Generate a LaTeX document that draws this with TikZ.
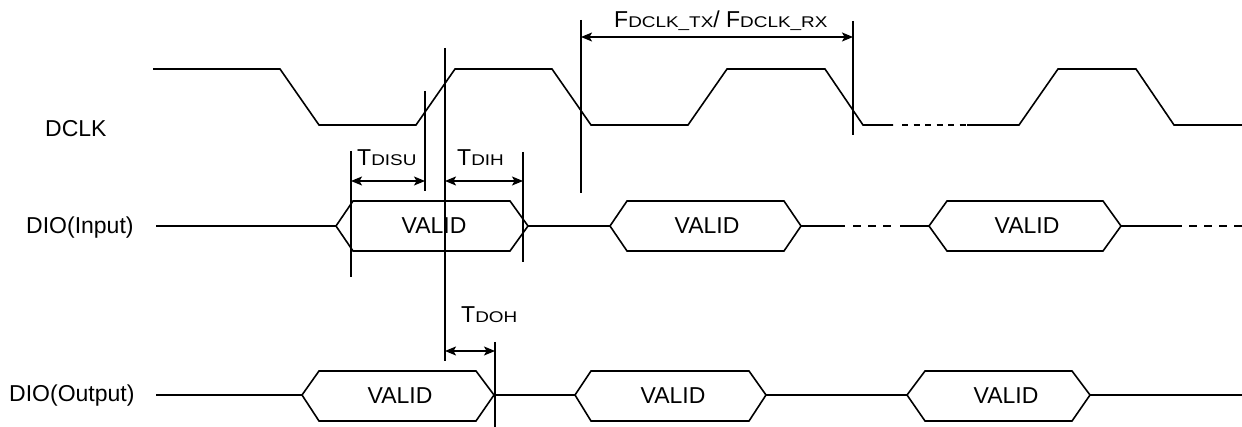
\documentclass[tikz,border=0pt]{standalone}
\usepackage{fontspec}
\setmainfont{Liberation Sans}
\newfontfamily\smfam[FakeStretch=1.22]{Liberation Sans}
\usetikzlibrary{arrows.meta}
\newcommand{\lowcaps}[1]{{\smfam\fontsize{15.5pt}{16pt}\selectfont #1}}
\begin{document}
\begin{tikzpicture}[x=1pt,y=-1pt,
  wave/.style={line width=1.6pt, line join=miter},
  guide/.style={line width=1.4pt},
  dim/.style={line width=1.4pt, {Stealth[length=11pt,width=9pt,inset=2.5pt]}-{Stealth[length=11pt,width=9pt,inset=2.5pt]}},
  lbl/.style={font=\fontsize{23pt}{24pt}\selectfont, inner sep=0pt},
  dashA/.style={dash pattern=on 6pt off 5.5pt},
  dashB/.style={dash pattern=on 8pt off 7pt}]
\useasboundingbox (0,0) rectangle (1242,427);

% signal names
\node[lbl, anchor=base west] (dclk) at (45,137) {DCLK};
\node[lbl, anchor=base west] (dioin) at (26,234) {DIO(Input)};
\node[lbl, anchor=base west] (dioout) at (9,402) {DIO(Output)};

% DCLK waveform
\draw[wave] (153,69) -- (280,69) -- (319,125) -- (416,125) -- (455,69) -- (552,69)
  -- (591,125) -- (688,125) -- (727,69) -- (825,69) -- (863,125) -- (893,125);
\draw[wave,dashA] (902,125) -- (967,125);
\draw[wave] (967,125) -- (1019,125) -- (1058,69) -- (1136,69) -- (1174,125) -- (1242,125);

% DIO(Input) boxes
\coordinate (i1w) at (336,226); \coordinate (i1e) at (528,226);
\coordinate (i2w) at (610,226); \coordinate (i2e) at (801,226);
\coordinate (i3w) at (929,226); \coordinate (i3e) at (1121,226);
\draw[wave] (i1w) -- (353,201) -- (510,201) -- (i1e) -- (510,251) -- (353,251) -- cycle;
\draw[wave] (i2w) -- (627,201) -- (784,201) -- (i2e) -- (784,251) -- (627,251) -- cycle;
\draw[wave] (i3w) -- (947,201) -- (1103,201) -- (i3e) -- (1103,251) -- (947,251) -- cycle;
\node[lbl, anchor=base] (vi1) at (434,234) {VALID};
\node[lbl, anchor=base] (vi2) at (707,234) {VALID};
\node[lbl, anchor=base] (vi3) at (1027,234) {VALID};

\coordinate (inS) at (156,226);
\draw[wave] (inS) -- (i1w);
\draw[wave] (i1e) -- (i2w);
\draw[wave] (i2e) -- (845,226);
\draw[wave,dashB] (853,226) -- (892,226);
\draw[wave] (900,226) -- (i3w);
\draw[wave] (i3e) -- (1182,226);
\draw[wave,dashB] (1189,226) -- (1242,226);

% DIO(Output) boxes
\coordinate (o1w) at (302,395); \coordinate (o1e) at (494,395);
\coordinate (o2w) at (575,395); \coordinate (o2e) at (766,395);
\coordinate (o3w) at (907,395); \coordinate (o3e) at (1090,395);
\draw[wave] (o1w) -- (319,371) -- (476,371) -- (o1e) -- (476,421) -- (319,421) -- cycle;
\draw[wave] (o2w) -- (591,371) -- (749,371) -- (o2e) -- (749,421) -- (591,421) -- cycle;
\draw[wave] (o3w) -- (925,371) -- (1072,371) -- (o3e) -- (1072,421) -- (925,421) -- cycle;
\node[lbl, anchor=base] (vo1) at (400,403) {VALID};
\node[lbl, anchor=base] (vo2) at (673,403) {VALID};
\node[lbl, anchor=base] (vo3) at (1006,403) {VALID};

\coordinate (outS) at (156,395);
\draw[wave] (outS) -- (o1w);
\draw[wave] (o1e) -- (o2w);
\draw[wave] (o2e) -- (o3w);
\draw[wave, line width=1.3pt] (o3e) -- (1242,395);

% guide lines
\draw[guide] (351,151) -- (351,277);
\draw[guide] (425,91) -- (425,191);
\draw[guide] (445,48) -- (445,361);
\draw[guide] (523,152) -- (523,262);
\draw[guide] (581,20) -- (581,193);
\draw[guide] (853,21) -- (853,135);
\draw[guide] (495,342) -- (495,427);

% dimension arrows
\coordinate (suA) at (351,181); \coordinate (suB) at (425,181);
\coordinate (hA) at (445,181);  \coordinate (hB) at (523,181);
\coordinate (ohA) at (445,351); \coordinate (ohB) at (495,351);
\coordinate (fA) at (581,37);   \coordinate (fB) at (853,37);
\draw[dim] (suA) -- (suB);
\draw[dim] (hA) -- (hB);
\draw[dim] (ohA) -- (ohB);
\draw[dim] (fA) -- (fB);

% timing labels
\node[lbl, anchor=base west] (tdisu) at (357,166) {T\lowcaps{DISU}};
\node[lbl, anchor=base west] (tdih) at (457,166) {T\lowcaps{DIH}};
\node[lbl, anchor=base west] (tdoh) at (461,323) {T\lowcaps{DOH}};
\node[lbl, anchor=base west] (fdclk) at (614,28) {F\lowcaps{DCLK\_TX}/ F\lowcaps{DCLK\_RX}};
\end{tikzpicture}
\end{document}
